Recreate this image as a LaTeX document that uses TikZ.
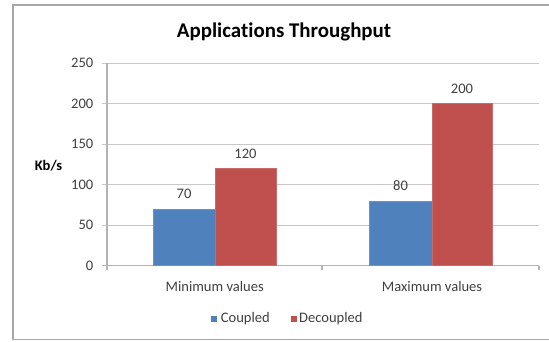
\documentclass[tikz,border=0pt]{standalone}
\usepackage{fontspec}
\setmainfont{Carlito}[Ligatures=CommonOff]
\definecolor{cblue}{HTML}{4F81BD}
\definecolor{cred}{HTML}{C0504D}
\definecolor{grid}{HTML}{C8C8C8}
\definecolor{frame}{HTML}{A8A8A8}
\definecolor{txt}{HTML}{404040}
\begin{document}
\begin{tikzpicture}[x=1bp,y=-1bp,
  gridline/.style={draw=grid,line width=1.1bp},
  axisline/.style={draw=grid!90!black,line width=1.1bp},
  ticklbl/.style={anchor=east,inner sep=0pt,text=txt,font=\fontsize{14.6}{14.6}\selectfont},
  datalbl/.style={inner sep=0pt,text=txt,font=\fontsize{14.6}{14.6}\selectfont},
  catlbl/.style={inner sep=0pt,text=txt,font=\fontsize{14.6}{14.6}\selectfont},
  barblue/.style={fill=cblue,draw=cblue!85!white,line width=0.5bp},
  barred/.style={fill=cred,draw=cred!85!white,line width=0.5bp},
  legsq/.style={minimum size=6.5bp,inner sep=0pt}]
\useasboundingbox (0,0) rectangle (549,341);
\fill[white] (0,0) rectangle (549,341);
% frame
\draw[frame,line width=1.6bp] (549,5) -- (13,5) -- (13,339.5) -- (549,339.5);
% title
\node[font=\bfseries\fontsize{21}{21}\selectfont,inner sep=0pt] (title) at (284,31.5) {Applications Throughput};
% gridlines
\foreach \v in {50,100,150,200,250}{
  \draw[gridline] (102,{265.7-0.81*\v}) -- (539,{265.7-0.81*\v});
}
% axes
\draw[axisline] (107,63.2) -- (107,270);
\draw[axisline] (102,265.7) -- (539,265.7);
\draw[axisline] (322,265.7) -- (322,270);
\draw[axisline] (539,265.7) -- (539,270);
% tick labels
\foreach \v in {0,50,100,150,200,250}{
  \node[ticklbl] (t\v) at (93.5,{265.7-0.81*\v}) {\v};
}
\node[font=\bfseries\fontsize{14.6}{14.6}\selectfont,inner sep=0pt] (ylab) at (48.5,166) {Kb/s};
% bars
\draw[barblue] (153,265.7) rectangle (215,{265.7-0.81*70});
\draw[barred] (215,265.7) rectangle (276,{265.7-0.81*120});
\draw[barblue] (369,265.7) rectangle (432,{265.7-0.81*80});
\draw[barred] (432,265.7) rectangle (492,{265.7-0.81*200});
% data labels
\node[datalbl] (d1) at (184,194) {70};
\node[datalbl] (d2) at (245.5,153.5) {120};
\node[datalbl] (d3) at (400.5,186) {80};
\node[datalbl] (d4) at (462,88.7) {200};
% category labels
\node[catlbl] (c1) at (214.7,286) {Minimum values};
\node[catlbl] (c2) at (432,286) {Maximum values};
% legend
\node[legsq,fill=cblue] (lb) at (214,319) {};
\node[catlbl,anchor=west] (lbt) at (220.7,319) {Coupled};
\node[legsq,fill=cred] (lr) at (294,319) {};
\node[catlbl,anchor=west] (lrt) at (299,319) {Decoupled};
\end{tikzpicture}
\end{document}
